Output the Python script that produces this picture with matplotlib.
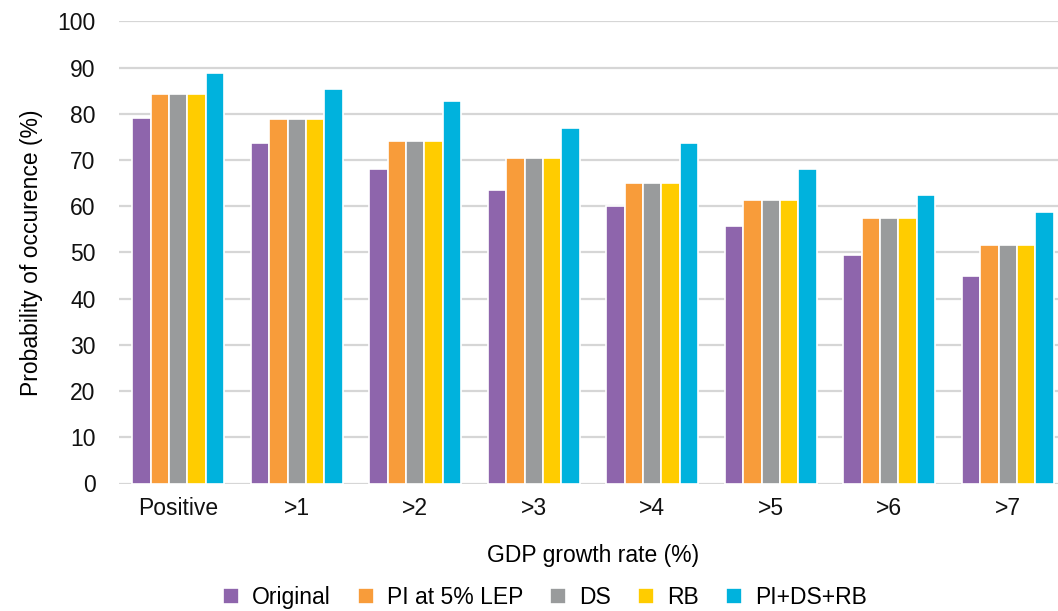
import numpy as np
import matplotlib
matplotlib.use("Agg")
import matplotlib.pyplot as plt

plt.rcParams['font.family'] = ['Liberation Sans', 'DejaVu Sans']

# probability of exceeding each GDP growth threshold
categories = ['Positive', '>1', '>2', '>3', '>4', '>5', '>6', '>7']
original = [79.0, 73.6, 68.0, 63.5, 60.0, 55.7, 49.5, 44.9]
pi_lep = [84.2, 78.8, 74.2, 70.4, 65.1, 61.3, 57.5, 51.5]
ds = [84.2, 78.8, 74.2, 70.4, 65.1, 61.3, 57.5, 51.5]
rb = [84.2, 78.8, 74.2, 70.4, 65.1, 61.3, 57.5, 51.5]
combined = [88.8, 85.3, 82.8, 77.0, 73.6, 68.0, 62.4, 58.7]

series = [
    ('Original', original, '#8e65ac'),
    ('PI at 5% LEP', pi_lep, '#f89c3a'),
    ('DS', ds, '#999b9c'),
    ('RB', rb, '#ffcc00'),
    ('PI+DS+RB', combined, '#00b2dd'),
]

fs = 16.5

fig = plt.figure(figsize=(10.58, 6.11), dpi=100)
ax = fig.add_axes([119 / 1058, 127.5 / 611, 948 / 1058, 462.2 / 611])

x = np.arange(len(categories))
w = 0.156
for i, (name, vals, col) in enumerate(series):
    ax.bar(x + (i - 2) * w, vals, w, color=col, edgecolor='white',
           linewidth=1.2, label=name, zorder=3)

ax.set_xlim(-0.5, len(categories) - 0.5)
ax.set_ylim(0, 100)
ax.set_yticks(range(0, 101, 10))
ax.set_xticks(x)
ax.set_xticklabels(categories)
ax.grid(axis='y', color='#d6d6d6', linewidth=1.6, zorder=0)
for s in ax.spines.values():
    s.set_visible(False)
ax.tick_params(axis='both', length=0, labelsize=fs, colors='#111111')
ax.tick_params(axis='y', pad=17)
ax.tick_params(axis='x', pad=10)

ax.set_xlabel('GDP growth rate (%)', fontsize=fs, labelpad=17)
ax.set_ylabel('Probability of occurence (%)', fontsize=fs, labelpad=10)

fig.legend(loc='lower center', bbox_to_anchor=(0.515, -0.03), ncol=5,
           frameon=False, fontsize=fs, handlelength=0.7, handleheight=0.7,
           handletextpad=0.55, columnspacing=1.2)

fig.savefig('out.png', dpi=100)
